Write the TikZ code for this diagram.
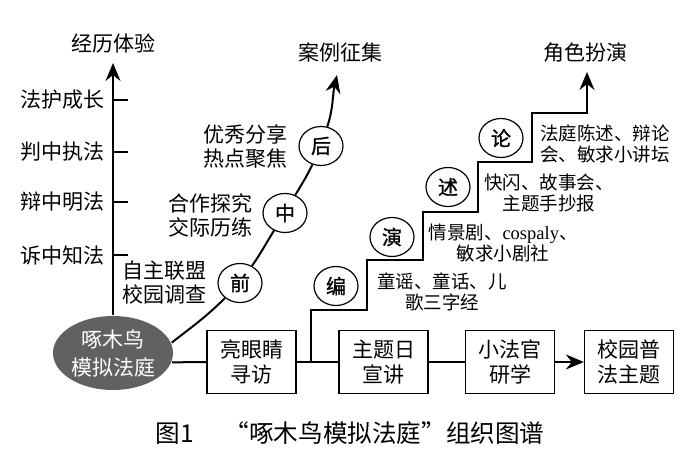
\documentclass[tikz,border=0pt]{standalone}
\usepackage{fontspec}
\setmainfont{Noto Sans CJK SC}
\newfontfamily\latinserif{Liberation Serif}
\newfontfamily\stagefont{Noto Sans CJK SC}[FakeBold=1.2]
\usetikzlibrary{arrows.meta,shapes.geometric}

\begin{document}
\begin{tikzpicture}[x=0.5pt, y=0.5pt, line width=1pt,
        >={Stealth[length=9pt,width=7.5pt,inset=3pt]},
        lbl/.style={font=\fontsize{10.5pt}{12pt}\selectfont, inner sep=0pt, align=center},
        steplbl/.style={font=\fontsize{9.25pt}{10.5pt}\selectfont, inner sep=0pt, align=center},
        stage/.style={draw, fill=white, ellipse, line width=0.6pt, minimum width=22pt, minimum height=19.5pt, inner sep=0pt, font=\fontsize{10pt}{10pt}\stagefont},
        box/.style={draw, rectangle, line width=0.65pt, minimum width=44.5pt, minimum height=31.5pt, inner sep=0pt, align=center, font=\fontsize{10.5pt}{12.5pt}\selectfont}]
        \useasboundingbox (0,0) rectangle (700,466);
        \node[ellipse, fill=black!62, minimum width=60pt, minimum height=37pt, inner sep=0pt, text=white, align=center, font=\fontsize{10.5pt}{14pt}\selectfont] (court) at (113,113) {啄木鸟\\模拟法庭};
        \coordinate (exptop) at (113,403);
        \draw[->] (court.north) -- (exptop);
        \node[lbl] (exp) at (113,423) {经历体验};
        \foreach \y/\t [count=\i] in {366/法护成长, 314/判中执法, 264/辩中明法, 211/诉中知法} {
            \node[lbl, anchor=east] (lv\i) at (105,\y) {\t};
            \draw (lv\i.east -| court.north) -- ++(15,0);
        }
        \node[stage] (qian) at (240,183) {前};
        \node[stage] (zhong) at (285,253) {中};
        \node[stage] (hou) at (321,320) {后};
        \coordinate (casetop) at (337,391);
        \draw (court.10) to[out=38, in=225] (qian);
        \draw (qian) to[out=55, in=238] (zhong);
        \draw (zhong) to[out=60, in=245] (hou);
        \draw[->] (hou) to[out=72, in=257] (casetop);
        \node[lbl] (case) at (340,414) {案例征集};
        \node[lbl] (pre) at (164,183) {自主联盟\\校园调查};
        \node[lbl] (mid) at (210,251) {合作探究\\交际历练};
        \node[lbl] (post) at (245,319) {优秀分享\\热点聚焦};
        \node[box] (b1) at (251.5,104) {亮眼睛\\寻访};
        \node[box] (b2) at (383.5,104) {主题日\\宣讲};
        \node[box] (b3) at (510,104) {小法官\\研学};
        \node[box] (b4) at (629,104) {校园普\\法主题};
        \draw (court.-9) -- (b1.west);
        \draw (b1) -- (b2);
        \draw (b2) -- (b3);
        \draw[->] (b3) -- (b4);
        \coordinate (fork) at (311,104);
        \coordinate (roletop) at (587,394);
        \draw[->] (fork) |- ++(56,52) |- ++(56,50) |- ++(55,48) |- ++(54,50) |- ++(55,49) -- (roletop);
        \node[lbl] (role) at (585,413) {角色扮演};
        \node[stage] (bian) at (336,180) {编};
        \node[stage] (yan) at (392,229) {演};
        \node[stage] (shu) at (448,279) {述};
        \node[stage] (lun) at (501,328) {论};
        \node[steplbl] (lbian) at (442,174) {童谣、童话、儿\\歌三字经};
        \node[steplbl] (lyan) at (503,223) {情景剧、{\latinserif cospaly}、\\敏求小剧社};
        \node[steplbl] (lshu) at (549,273) {快闪、故事会、\\主题手抄报};
        \node[steplbl, align=left] (llun) at (605,322) {法庭陈述、辩论\\会、敏求小讲坛};
        \node[font=\fontsize{12.3pt}{12.3pt}\selectfont, inner sep=0pt] (cap) at (350,33) {图1\hspace{1.25em}“啄木鸟模拟法庭”组织图谱};
    \end{tikzpicture}
\end{document}
